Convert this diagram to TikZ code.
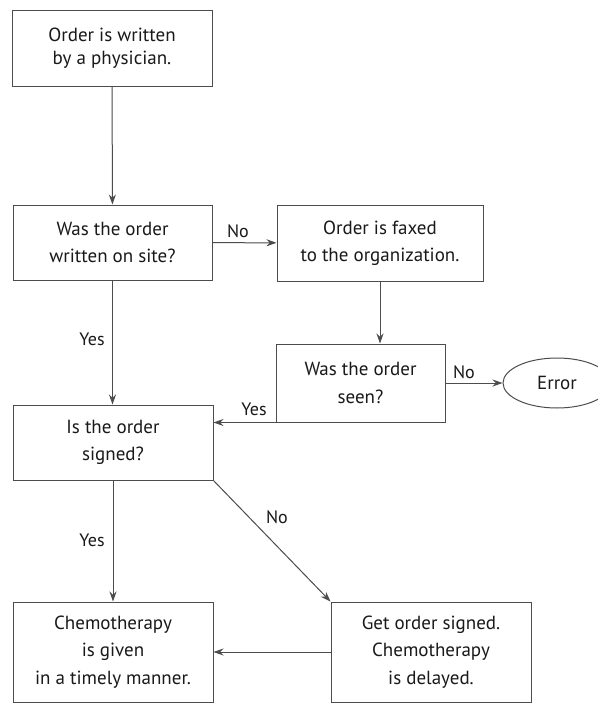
\documentclass[tikz,border=0pt]{standalone}
\usepackage{fontspec}
\setmainfont{PT Sans}
\usetikzlibrary{arrows.meta,shapes.geometric,calc}
\definecolor{linegray}{gray}{0.3}
\definecolor{txt}{gray}{0.1}
\begin{document}
\begin{tikzpicture}[x=1pt,y=-1pt,
  box/.style={draw=linegray, line width=1pt, align=center, inner sep=0pt,
    minimum width=200pt, minimum height=76pt, text=txt,
    font=\fontsize{19}{27.5}\selectfont},
  flow/.style={draw=linegray, line width=1pt, -{Stealth[length=10pt,width=7pt]}},
  lbl/.style={font=\fontsize{18}{20}\selectfont, text=txt, inner sep=0pt}]
\useasboundingbox[fill=white] (0,0) rectangle (597,704);

% process steps and decisions
\node[box, font=\fontsize{19}{23}\selectfont] (written) at (112,48) {Order is written\\by a physician.};
\node[box, minimum width=199pt, minimum height=75pt] (onsite) at (112.5,242.5) {Was the order\\written on site?};
\node[box, minimum width=206pt] (faxed) at (380,243) {Order is faxed\\to the organization.};
\node[box, minimum width=169pt, minimum height=78pt] (seen) at (360.5,383) {Was the order\\seen?};
\node[ellipse, draw=linegray, line width=1pt, minimum width=108pt, minimum height=50pt,
  inner sep=0pt, text=txt, font=\fontsize{19}{23}\selectfont] (error) at (557,383) {Error};
\node[box, minimum height=75pt] (signed) at (113,442.5) {Is the order\\signed?};
\node[box, minimum height=100pt] (given) at (113,652) {Chemotherapy\\is given\\in a timely manner.};
\node[box, minimum height=100pt] (delayed) at (431,652) {Get order signed.\\Chemotherapy\\is delayed.};

% connectors
\draw[flow] (written) -- (onsite);
\draw[flow] (onsite) -- (faxed);
\draw[flow] (onsite.south) -- (onsite.south |- signed.north);
\draw[flow] (faxed.south) -- (faxed.south |- seen.north);
\draw[flow] (seen) -- (error);
\draw[flow] (seen.south west) -- (seen.south west -| signed.east);
\draw[flow] (signed) -- (given);
\draw[flow] (signed.south east) -- (delayed.north west);
\draw[flow] (delayed) -- (given);

% branch labels
\node[lbl] (l1) at (238,231) {No};
\node[lbl] (l2) at (464,372) {No};
\node[lbl] (l3) at (254,409) {Yes};
\node[lbl] (l4) at (92,339) {Yes};
\node[lbl] (l5) at (92,540) {Yes};
\node[lbl] (l6) at (277,517) {No};
\end{tikzpicture}
\end{document}
